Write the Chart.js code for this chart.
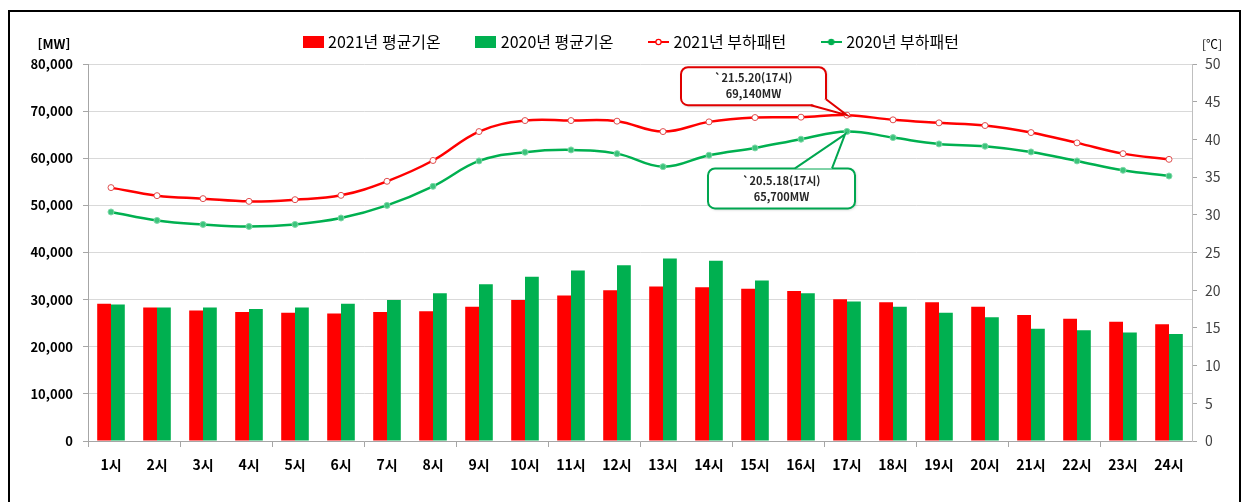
<!DOCTYPE html>
<html lang="ko">
<head>
<meta charset="utf-8">
<title>시간대별 부하패턴</title>
<script src="https://cdn.jsdelivr.net/npm/chart.js@4.4.1/dist/chart.umd.min.js"></script>
<style>
  html, body { margin: 0; padding: 0; background: #fff; }
  #wrap { position: relative; width: 1249px; height: 502px; }
</style>
</head>
<body>
<div id="wrap"><canvas id="loadChart" width="1249" height="502"></canvas></div>
<script>
const hours = ['1시', '2시', '3시', '4시', '5시', '6시', '7시', '8시', '9시', '10시', '11시', '12시',
    '13시', '14시', '15시', '16시', '17시', '18시', '19시', '20시', '21시', '22시', '23시', '24시'];

// 평균기온 (℃, 오른쪽 축)
const temp2021 = [18.2, 17.7, 17.3, 17.1, 17.0, 16.9, 17.1, 17.2, 17.8, 18.7, 19.3, 20.0,
    20.5, 20.4, 20.2, 19.9, 18.8, 18.4, 18.4, 17.8, 16.7, 16.2, 15.8, 15.5];
const temp2020 = [18.1, 17.7, 17.7, 17.5, 17.7, 18.2, 18.7, 19.6, 20.8, 21.8, 22.6, 23.3,
    24.2, 23.9, 21.3, 19.6, 18.5, 17.8, 17.0, 16.4, 14.9, 14.7, 14.4, 14.2];

// 부하패턴 (MW, 왼쪽 축)
const load2021 = [53770, 52060, 51430, 50850, 51210, 52130, 55110, 59520, 65660, 68000, 68000, 67870,
    65660, 67720, 68640, 68720, 69140, 68150, 67510, 66940, 65450, 63260, 60980, 59770];
const load2020 = [48600, 46810, 45960, 45530, 45960, 47320, 50000, 54040, 59430, 61280, 61770, 60980,
    58210, 60640, 62190, 64040, 65700, 64380, 63040, 62550, 61340, 59430, 57450, 56230];

const peakIndex = 16;
const peakText2021 = ['`21.5.20(17시)', '69,140MW'];
const peakText2020 = ['`20.5.18(17시)', '65,700MW'];

const FONT = "'Noto Sans CJK KR', 'Noto Sans', sans-serif";
const RED = '#ff0000';
const GREEN = '#00b050';

Chart.defaults.font.family = FONT;

function legendIcon(color, kind) {
    const c = document.createElement('canvas');
    c.width = 21;
    c.height = 12;
    const g = c.getContext('2d');
    if (kind === 'bar') {
        g.fillStyle = color;
        g.fillRect(0, 0, 21, 12);
    } else {
        g.strokeStyle = color;
        g.lineWidth = 2;
        g.beginPath();
        g.moveTo(0, 6);
        g.lineTo(21, 6);
        g.stroke();
        g.beginPath();
        g.arc(10.5, 6, 2.6, 0, Math.PI * 2);
        g.fillStyle = kind === 'open' ? '#fff' : color;
        g.fill();
        g.lineWidth = 1.2;
        g.stroke();
    }
    return c;
}

function drawCallout(ctx, box, base, tip, color, lines) {
    const { l, t, r, b } = box;
    const rad = 7;
    ctx.save();
    ctx.shadowColor = 'rgba(0,0,0,0.25)';
    ctx.shadowBlur = 3;
    ctx.shadowOffsetX = 1;
    ctx.shadowOffsetY = 1;
    ctx.beginPath();
    ctx.roundRect(l, t, r - l, b - t, rad);
    ctx.fillStyle = '#fff';
    ctx.fill();
    ctx.shadowColor = 'transparent';
    ctx.lineWidth = 2;
    ctx.strokeStyle = color;
    ctx.stroke();

    // tail
    ctx.beginPath();
    ctx.moveTo(base[0][0], base[0][1]);
    ctx.lineTo(tip[0], tip[1]);
    ctx.lineTo(base[1][0], base[1][1]);
    ctx.closePath();
    ctx.fillStyle = '#fff';
    ctx.fill();
    ctx.beginPath();
    ctx.moveTo(base[0][0], base[0][1]);
    ctx.lineTo(tip[0], tip[1]);
    ctx.lineTo(base[1][0], base[1][1]);
    ctx.stroke();

    ctx.fillStyle = '#262626';
    ctx.font = 'bold 11px ' + FONT;
    ctx.textAlign = 'center';
    ctx.textBaseline = 'middle';
    const cx = (l + r) / 2;
    const cy = (t + b) / 2;
    ctx.fillText(lines[0], cx, cy - 8);
    ctx.fillText(lines[1], cx, cy + 8);
    ctx.restore();
}

const framePlugin = {
    id: 'frame',
    beforeDraw(chart) {
        const ctx = chart.ctx;
        ctx.save();
        ctx.fillStyle = '#fff';
        ctx.fillRect(0, 0, chart.width, chart.height);
        ctx.strokeStyle = '#000';
        ctx.lineWidth = 2;
        ctx.strokeRect(9, 11, 1231, 500);
        ctx.restore();
    },
    afterDraw(chart) {
        const ctx = chart.ctx;
        const area = chart.chartArea;
        ctx.save();
        ctx.fillStyle = '#000';
        ctx.textBaseline = 'middle';
        ctx.textAlign = 'center';
        ctx.font = 'bold 13px ' + FONT;
        ctx.fillText('[MW]', area.left - 34, 44);
        ctx.font = '12px ' + FONT;
        ctx.fillText('[℃]', area.right + 20, 44);
        ctx.restore();
    }
};

const calloutPlugin = {
    id: 'callouts',
    afterDatasetsDraw(chart) {
        const ctx = chart.ctx;
        const p1 = chart.getDatasetMeta(2).data[peakIndex];
        const p2 = chart.getDatasetMeta(3).data[peakIndex];

        const box1 = { l: p1.x - 166, r: p1.x - 21, t: p1.y - 48, b: p1.y - 10 };
        drawCallout(ctx, box1, [[box1.r - 15, box1.b], [box1.r, box1.b - 6]], [p1.x, p1.y], '#e00000', peakText2021);

        const box2 = { l: p2.x - 139, r: p2.x + 8, t: p2.y + 37, b: p2.y + 77 };
        drawCallout(ctx, box2, [[box2.l + 87, box2.t], [box2.l + 124, box2.t]], [p2.x - 2, p2.y + 3], '#00a650', peakText2020);
    }
};

const ctx = document.getElementById('loadChart').getContext('2d');
const loadChart = new Chart(ctx, {
    type: 'bar',
    data: {
        labels: hours,
        datasets: [
            {
                label: '2021년 평균기온',
                data: temp2021,
                backgroundColor: RED,
                yAxisID: 'y1',
                order: 2,
                categoryPercentage: 0.6,
                barPercentage: 1.0,
                legendIcon: legendIcon(RED, 'bar')
            },
            {
                label: '2020년 평균기온',
                data: temp2020,
                backgroundColor: GREEN,
                yAxisID: 'y1',
                order: 2,
                categoryPercentage: 0.6,
                barPercentage: 1.0,
                legendIcon: legendIcon(GREEN, 'bar')
            },
            {
                type: 'line',
                label: '2021년 부하패턴',
                data: load2021,
                borderColor: RED,
                borderWidth: 2.5,
                pointRadius: 3,
                pointBorderWidth: 1,
                pointBackgroundColor: '#fff',
                pointBorderColor: '#e05050',
                tension: 0.4,
                yAxisID: 'y',
                order: 1,
                legendIcon: legendIcon(RED, 'open')
            },
            {
                type: 'line',
                label: '2020년 부하패턴',
                data: load2020,
                borderColor: GREEN,
                borderWidth: 2.5,
                pointRadius: 3,
                pointBorderWidth: 1,
                pointBackgroundColor: '#3cc47c',
                pointBorderColor: '#7fd8a8',
                tension: 0.4,
                yAxisID: 'y',
                order: 1,
                legendIcon: legendIcon(GREEN, 'fill')
            }
        ]
    },
    options: {
        responsive: false,
        animation: false,
        layout: { padding: { left: 16, right: 0, top: 0, bottom: 0 } },
        plugins: {
            tooltip: { enabled: false },
            legend: {
                position: 'top',
                maxHeight: 65,
                labels: {
                    usePointStyle: true,
                    pointStyleWidth: 14,
                    padding: 38,
                    color: '#262626',
                    font: { size: 16 },
                    generateLabels: chart => chart.data.datasets.map((ds, i) => ({
                        text: ds.label,
                        pointStyle: ds.legendIcon,
                        fillStyle: ds.backgroundColor || ds.borderColor,
                        strokeStyle: 'transparent',
                        lineWidth: 0,
                        hidden: !chart.isDatasetVisible(i),
                        datasetIndex: i
                    }))
                }
            }
        },
        scales: {
            x: {
                offset: true,
                grid: {
                    offset: true,
                    drawOnChartArea: false,
                    tickLength: 6,
                    color: c => c.index % 2 === 0 ? '#a6a6a6' : 'rgba(0,0,0,0)'
                },
                border: { color: '#a6a6a6' },
                ticks: {
                    color: '#000',
                    padding: 9,
                    font: { size: 14, weight: 'bold' }
                },
                afterFit: scale => { scale.height = 61; }
            },
            y: {
                position: 'left',
                min: 0,
                max: 80000,
                grid: { color: '#d9d9d9', tickColor: '#a6a6a6', tickLength: 5 },
                border: { color: '#a6a6a6' },
                ticks: {
                    stepSize: 10000,
                    color: '#000',
                    padding: 10,
                    font: { size: 13, weight: 'bold' },
                    callback: v => v.toLocaleString('en-US')
                },
                afterFit: scale => { scale.width = 72; }
            },
            y1: {
                position: 'right',
                min: 0,
                max: 50,
                grid: { drawOnChartArea: false, tickColor: '#a6a6a6', tickLength: 5 },
                border: { color: '#bfbfbf' },
                ticks: {
                    stepSize: 5,
                    color: '#404040',
                    padding: 8,
                    font: { size: 14 }
                },
                afterFit: scale => { scale.width = 57; }
            }
        }
    },
    plugins: [framePlugin, calloutPlugin, {
        id: 'legendShift',
        afterLayout(chart) {
            chart.legend.top -= 4;
            chart.legend.bottom -= 4;
        }
    }]
});
</script>
</body>
</html>
